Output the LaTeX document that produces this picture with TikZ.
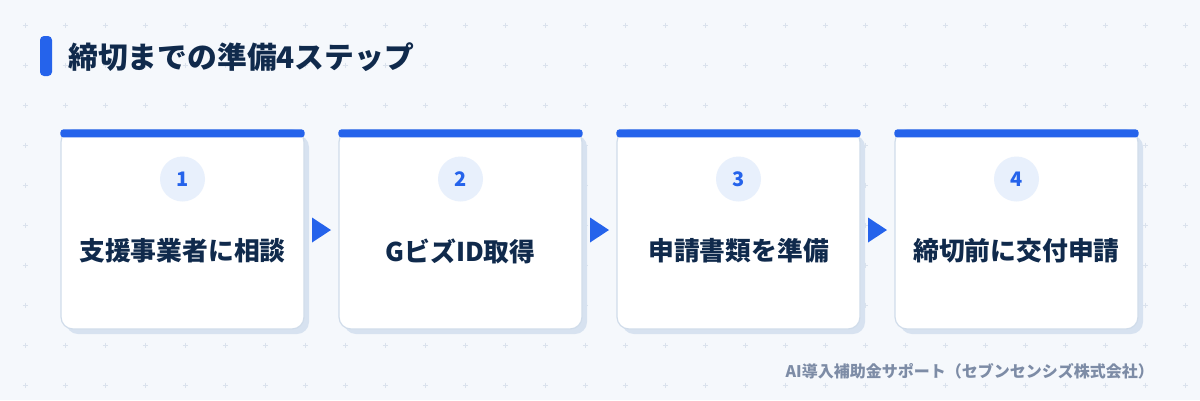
\documentclass[tikz,border=0pt]{standalone}
\usepackage{fontspec}
\setmainfont{Noto Sans CJK JP}
\usetikzlibrary{calc}
\definecolor{bgpaper}{HTML}{F5F8FC}
\definecolor{gridmark}{HTML}{DAE2ED}
\definecolor{accent}{HTML}{2563EB}
\definecolor{navy}{HTML}{102A4C}
\definecolor{cardline}{HTML}{D0DCEA}
\definecolor{cardshade}{HTML}{D7E2F0}
\definecolor{numfill}{HTML}{E8F0FC}
\definecolor{footgray}{HTML}{7D8CA6}
\tikzset{
	card/.style={draw=cardline, line width=1.2pt, fill=white, rounded corners=12pt, minimum width=243pt, minimum height=199pt, inner sep=0pt},
	cardshadow/.style={fill=cardshade, rounded corners=12pt, minimum width=243pt, minimum height=199pt, inner sep=0pt},
	numdisc/.style={circle, fill=numfill, minimum size=45pt, inner sep=0pt, text=accent, font=\fontsize{20}{23}\selectfont\bfseries},
	steplabel/.style={text=navy, inner sep=0pt, font=\fontsize{25.8}{30}\selectfont\bfseries},
}
\begin{document}
\begin{tikzpicture}[x=1pt, y=-1pt]
		%%%%% START %%%%%
		
		\fill[bgpaper] (0, 0) rectangle (1200, 400);
		\useasboundingbox (0, 0) rectangle (1200, 400);
		
		\foreach \gx in {25, 65, ..., 1185} {
			\foreach \gy in {25, 65, ..., 385} {
				\draw[gridmark, line width=0.8pt] (\gx-2.5, \gy) -- (\gx+2.5, \gy) (\gx, \gy-2.5) -- (\gx, \gy+2.5);
			}
		}
		
		\fill[accent, rounded corners=4pt] (40, 36) rectangle (52, 76);
		\node[anchor=west, inner sep=0pt, text=navy, font=\fontsize{29.8}{34}\selectfont\bfseries] (title) at (68, 57) {締切までの準備4ステップ};
		
		\foreach \i/\txt in {1/支援事業者に相談, 2/GビズID取得, 3/申請書類を準備, 4/締切前に交付申請} {
			\node[cardshadow] at (187.5+278*\i-278, 234.5) {};
			\node[card] (card\i) at (182.5+278*\i-278, 229.5) {};
			\fill[accent, rounded corners=3pt] (card\i.north west) rectangle ($(card\i.north east)+(0, 8)$);
			\node[numdisc] (num\i) at ($(card\i.center)+(0, -50.5)$) {\i};
			\node[steplabel] (step\i) at ($(card\i.center)+(0, 21.5)$) {\txt};
		}
		
		\foreach \i/\j in {1/2, 2/3, 3/4} {
			\coordinate (gap\i) at ($(card\i.east)!0.5!(card\j.west)+(0, 0.5)$);
			\fill[accent] ($(gap\i)+(-9.5, -12.5)$) -- ++(19, 12.5) -- ++(-19, 12.5) -- cycle;
		}
		
		\node[anchor=east, inner sep=0pt, text=footgray, font=\fontsize{16}{19}\selectfont\bfseries] (credit) at (1154, 371) {AI導入補助金サポート（セブンセンシズ株式会社）};
		
		%%%%% END %%%%%
\end{tikzpicture}
\end{document}
